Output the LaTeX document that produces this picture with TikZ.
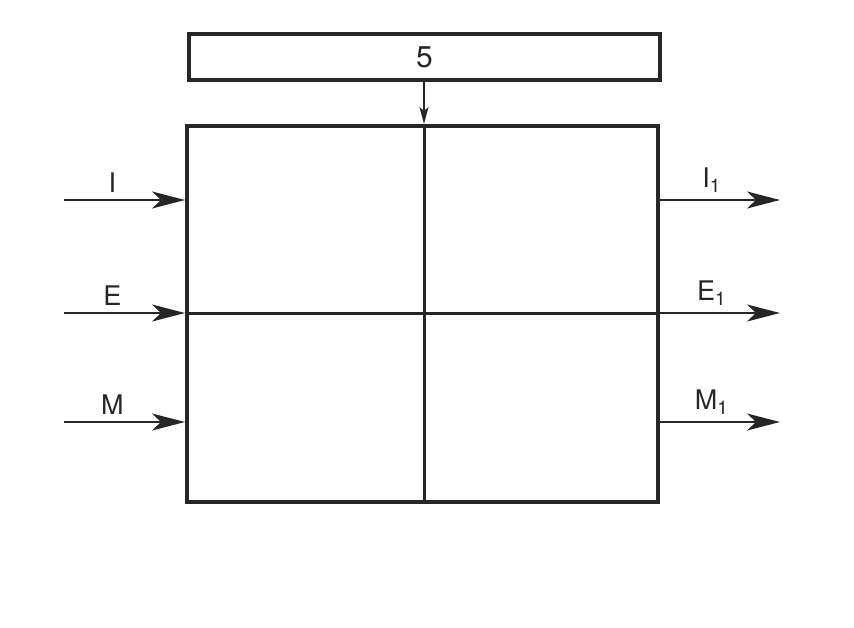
\documentclass[tikz,border=0pt]{standalone}
\usepackage{fontspec}
\setmainfont{TeX Gyre Heros}
\usetikzlibrary{arrows.meta, positioning, calc}

\begin{document}
\begin{tikzpicture}[
  x=1pt, y=-1pt,
  blk/.style={rectangle, draw=black!85, line width=4pt, inner sep=0pt},
  div/.style={draw=black!85, line width=3pt},
  flow/.style={-{Stealth[length=33pt, width=17pt, inset=9pt]}, line width=1.5pt, black!85},
  feed/.style={-{Stealth[length=17pt, width=9pt, inset=4pt]}, line width=1.5pt, black!85},
  lbl/.style={font=\fontsize{27}{29}\selectfont, text=black!85, inner sep=7pt}
]
\useasboundingbox (0,0) rectangle (854,628);

\node[blk, minimum width=471pt, minimum height=46pt,
      font=\fontsize{30}{32}\selectfont, text=black!85] (ctrl) at (424.5,57) {5};
\node[blk, minimum width=471pt, minimum height=376pt] (proc) at (422.5,314) {};

\coordinate (mid) at (424,314);
\draw[div] (mid |- proc.north) -- (mid |- proc.south);
\draw[div] (proc.west) -- (proc.east);
\draw[feed] (mid |- ctrl.south) -- (mid |- proc.north);

\coordinate (inI) at (64,200);
\coordinate (inE) at (64,313);
\coordinate (inM) at (64,422);
\coordinate (outI) at (780,200);
\coordinate (outE) at (780,313);
\coordinate (outM) at (780,422);

\draw[flow] (inI) -- node[lbl, above, pos=0.4] {I} (proc.west |- inI);
\draw[flow] (inE) -- node[lbl, above, pos=0.4] {E} (proc.west |- inE);
\draw[flow] (inM) -- node[lbl, above, pos=0.4] {M} (proc.west |- inM);

\draw[flow] (proc.east |- outI) -- node[lbl, above, pos=0.43] {I\textsubscript{1}} (outI);
\draw[flow] (proc.east |- outE) -- node[lbl, above, pos=0.43] {E\textsubscript{1}} (outE);
\draw[flow] (proc.east |- outM) -- node[lbl, above, pos=0.43] {M\textsubscript{1}} (outM);
\end{tikzpicture}
\end{document}
